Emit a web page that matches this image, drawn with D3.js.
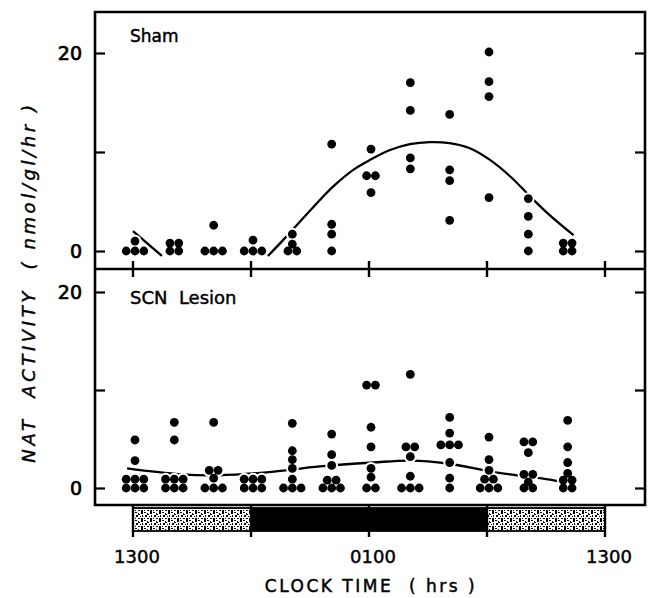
<!DOCTYPE html>
<html>
<head>
<meta charset="utf-8">
<script src="https://cdn.jsdelivr.net/npm/d3@7"></script>
<style>
  body { margin: 0; background: #fff; }
  svg { display: block; }
  text { font-family: "DejaVu Sans", sans-serif; fill: #000; stroke: #000; stroke-width: 0.45px; }
</style>
</head>
<body>
<div id="chart"></div>
<script>
// Sampling times, in hours after 1300
const sampleHours = [0, 2, 4, 6, 8, 10, 12, 14, 16, 18, 20, 22];

// NAT activity (nmol/gl/hr), one list per sampling time
const shamValues = [
  [1.0, 0, 0, 0],
  [0.8, 0.8, 0, 0],
  [2.6, 0, 0, 0],
  [1.1, 0, 0, 0],
  [1.7, 0.7, 0, 0],
  [10.8, 2.7, 1.7, 0],
  [10.3, 7.6, 7.6, 5.9],
  [17.0, 14.2, 9.4, 8.3],
  [13.8, 8.2, 7.1, 3.1],
  [20.1, 17.1, 15.6, 5.4],
  [5.3, 3.5, 1.7, 0],
  [0.8, 0.8, 0, 0]
];

const lesionValues = [
  [4.9, 2.8, 0.9, 0.9, 0.9, 0, 0, 0],
  [6.7, 4.9, 0.9, 0.9, 0.9, 0, 0, 0],
  [6.7, 1.8, 1.8, 1.0, 0, 0, 0],
  [0.9, 0.9, 0.9, 0, 0, 0],
  [6.6, 3.8, 2.9, 2.0, 0.9, 0, 0, 0],
  [5.5, 3.4, 2.3, 0.8, 0.8, 0, 0, 0],
  [10.5, 10.5, 6.2, 4.2, 2.0, 1.1, 0, 0],
  [11.6, 4.2, 4.2, 3.2, 1.2, 0, 0, 0],
  [7.2, 5.6, 4.4, 4.4, 4.4, 2.6, 1.0, 0],
  [5.2, 2.9, 1.8, 0.9, 0.9, 0, 0, 0],
  [4.7, 4.7, 3.6, 1.4, 1.4, 0.6, 0, 0],
  [6.9, 4.2, 2.6, 1.5, 0.8, 0.8, 0, 0]
];

// Fitted curves
const shamFitHours = [6.86, 7.63, 9.15, 10.17, 11.2, 12.05, 13.07, 14.08, 15.1, 16.1, 17.1, 18.15, 19.2, 20.2, 21.2, 22.4];
const shamFitValues = [-0.5, 1.1, 4.4, 6.5, 8.2, 9.2, 10.2, 10.8, 11.0, 10.9, 10.4, 9.2, 7.5, 5.5, 3.6, 1.6];
const shamEarlyHours = [0, 1.47];
const shamEarlyValues = [2.0, -0.5];

const lesionFitHours = [-0.3, 2.4, 4.4, 6.8, 9.5, 12.2, 14.1, 16.0, 18.15, 19.5, 20.7, 21.9];
const lesionFitValues = [2.0, 1.4, 1.3, 1.6, 2.2, 2.6, 2.8, 2.5, 1.7, 1.3, 1.0, 0.6];

// Axis ticks
const yTicks = [0, 10, 20];
const xTicks = [0, 6, 12, 18, 24];
const xTickLabels = ['1300', '', '0100', '', '1300'];

// Light / dark schedule (hours after 1300)
const lightStart = [0, 6, 18];
const lightEnd = [6, 18, 24];
const lightPhase = ['light', 'dark', 'light'];

const W = 650, H = 598;
const frame = { left: 95, right: 645, top: 12, mid: 269, bottom: 505 };

const svg = d3.select('#chart').append('svg')
  .attr('width', W)
  .attr('height', H);

// stipple for the light phase
const defs = svg.append('defs');
const pat = defs.append('pattern')
  .attr('id', 'stipple')
  .attr('patternUnits', 'userSpaceOnUse')
  .attr('width', 9)
  .attr('height', 8);
pat.append('rect').attr('width', 9).attr('height', 8).attr('fill', '#fff');
[[0, 0, 2, 1], [3, 1, 1, 2], [6, 0, 2, 2], [1, 3, 2, 2], [5, 4, 1, 1], [7, 3, 1, 2],
 [0, 6, 1, 1], [3, 6, 2, 1], [6, 6, 2, 2], [4, 2, 1, 1]].forEach(p => {
  pat.append('rect')
    .attr('x', p[0]).attr('y', p[1])
    .attr('width', p[2]).attr('height', p[3])
    .attr('fill', '#000');
});

const x = d3.scaleLinear().domain([0, 24]).range([133, 605]);
const yTop = d3.scaleLinear().domain([0, 20]).range([251, 53]);
const yBot = d3.scaleLinear().domain([0, 20]).range([488, 292]);

const panels = [
  { name: 'Sham', y: yTop, values: shamValues, labelY: 42,
    fits: [[shamEarlyHours, shamEarlyValues], [shamFitHours, shamFitValues]] },
  { name: 'SCN\u00a0\u00a0Lesion', y: yBot, values: lesionValues, labelY: 304,
    fits: [[lesionFitHours, lesionFitValues]] }
];

panels.forEach(p => {
  // y axis ticks (inward) on both sides
  svg.append('g')
    .attr('transform', `translate(${frame.left},0)`)
    .call(d3.axisLeft(p.y).tickValues(yTicks).tickSize(-10).tickPadding(13)
      .tickFormat(d => d === 10 ? '' : d))
    .call(g => g.select('.domain').remove())
    .call(g => g.selectAll('line').attr('stroke', '#000').attr('stroke-width', 2.2))
    .call(g => g.selectAll('text')
      .style('font-size', '19px')
      .style('font-family', '"DejaVu Sans", sans-serif')
      .style('stroke', '#000')
      .style('stroke-width', '0.7px'));

  svg.append('g')
    .attr('transform', `translate(${frame.right},0)`)
    .call(d3.axisRight(p.y).tickValues(yTicks).tickSize(-10).tickFormat(''))
    .call(g => g.select('.domain').remove())
    .call(g => g.selectAll('line').attr('stroke', '#000').attr('stroke-width', 2.2));

  // fitted lines
  const line = d3.line()
    .x(d => x(d[0]))
    .y(d => p.y(d[1]))
    .curve(d3.curveCatmullRom);
  p.fits.forEach(f => {
    svg.append('path')
      .datum(f[0].map((h, i) => [h, f[1][i]]))
      .attr('d', line)
      .attr('fill', 'none')
      .attr('stroke', '#000')
      .attr('stroke-width', 2.3);
  });

  // dots: equal values at a time point sit side by side
  const dots = [];
  sampleHours.forEach((h, i) => {
    const groups = d3.group(p.values[i], v => v);
    groups.forEach((vals, v) => {
      vals.forEach((_, k) => {
        dots.push({ cx: x(h) + 2 + (k - (vals.length - 1) / 2) * 8.8, cy: p.y(v) });
      });
    });
  });
  svg.append('g').selectAll('circle')
    .data(dots)
    .join('circle')
    .attr('cx', d => d.cx).attr('cy', d => d.cy)
    .attr('r', 6.4)
    .attr('fill', '#fff');
  svg.append('g').selectAll('circle')
    .data(dots)
    .join('circle')
    .attr('cx', d => d.cx).attr('cy', d => d.cy)
    .attr('r', 4.4)
    .attr('fill', '#000');

  svg.append('text')
    .attr('x', 130)
    .attr('y', p.labelY)
    .style('font-size', p.name === 'Sham' ? '17px' : '18px')
    .text(p.name);
});

// frames
svg.append('path')
  .attr('d', `M${frame.left},${frame.top}H${frame.right}V${frame.bottom}H${frame.left}Z M${frame.left},${frame.mid}H${frame.right}`)
  .attr('fill', 'none')
  .attr('stroke', '#000')
  .attr('stroke-width', 2.6);

// x ticks crossing the divider
svg.append('g').selectAll('line')
  .data(xTicks)
  .join('line')
  .attr('x1', d => x(d)).attr('x2', d => x(d))
  .attr('y1', frame.mid - 8).attr('y2', frame.mid + 8)
  .attr('stroke', '#000').attr('stroke-width', 2.4);

// light/dark bar
const barTop = 508, barBottom = 531;
svg.append('g').selectAll('rect')
  .data(lightStart.map((s, i) => ({ s, e: lightEnd[i], phase: lightPhase[i] })))
  .join('rect')
  .attr('x', d => x(d.s))
  .attr('y', barTop)
  .attr('width', d => x(d.e) - x(d.s))
  .attr('height', barBottom - barTop)
  .attr('fill', d => d.phase === 'dark' ? '#000' : 'url(#stipple)')
  .attr('stroke', '#000')
  .attr('stroke-width', 1.8);

// x ticks through the bar, with labels
const xAxis = svg.append('g');
xAxis.selectAll('line')
  .data(xTicks)
  .join('line')
  .attr('x1', d => x(d)).attr('x2', d => x(d))
  .attr('y1', frame.bottom).attr('y2', 537)
  .attr('stroke', '#000').attr('stroke-width', 2.4);
xAxis.selectAll('text')
  .data(xTicks)
  .join('text')
  .attr('x', d => x(d) + 4)
  .attr('y', 563)
  .attr('text-anchor', 'middle')
  .style('font-size', '18px')
  .text((d, i) => xTickLabels[i]);

// axis titles
svg.append('text')
  .attr('x', 371)
  .attr('y', 592)
  .attr('text-anchor', 'middle')
  .style('font-size', '17px')
  .style('letter-spacing', '2.5px')
  .style('white-space', 'pre')
  .text('CLOCK TIME  ( hrs )');

svg.append('text')
  .attr('transform', 'translate(35,282) rotate(-90)')
  .attr('text-anchor', 'middle')
  .style('font-size', '18px')
  .style('font-style', 'italic')
  .style('letter-spacing', '3.6px')
  .style('white-space', 'pre')
  .text('NAT  ACTIVITY  ( nmol/gl/hr )');
</script>
</body>
</html>
